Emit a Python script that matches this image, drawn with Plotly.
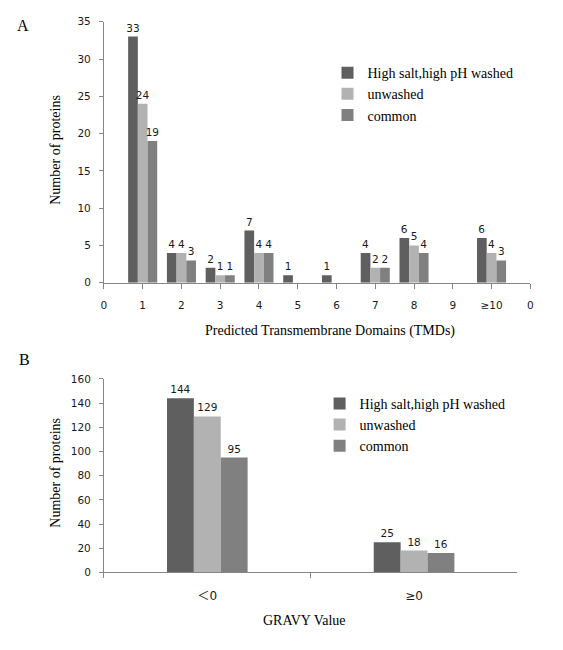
import plotly.graph_objects as go

# Panel A data
tmd_positions = [1, 2, 3, 4, 5, 6, 7, 8, 9, 10]
tmd_tickvals = [0, 1, 2, 3, 4, 5, 6, 7, 8, 9, 10, 11]
tmd_ticktext = ["0", "1", "2", "3", "4", "5", "6", "7", "8", "9", "≥10", "0"]
a_washed = [33, 4, 2, 7, 1, 1, 4, 6, 0, 6]
a_unwashed = [24, 4, 1, 4, 0, 0, 2, 5, 0, 4]
a_common = [19, 3, 1, 4, 0, 0, 2, 4, 0, 3]

# Panel B data
gravy_cats = ["＜0", "≥0"]
b_washed = [144, 25]
b_unwashed = [129, 18]
b_common = [95, 16]

series_names = ["High salt,high pH washed", "unwashed", "common"]
colors = ["#5f5f5f", "#b2b2b2", "#808080"]

W, H = 563, 650
def px(x):
    return x / W
def py(y):
    return 1 - y / H

label_font = dict(family="DejaVu Sans", size=10.5, color="#1a1a1a")
tick_font = dict(family="DejaVu Sans", size=10.5, color="#1a1a1a")
serif = "Liberation Serif"
axis_color = "#868686"

def txt(vals):
    return [str(v) if v else "" for v in vals]

fig = go.Figure()
for name, vals, c in zip(series_names, [a_washed, a_unwashed, a_common], colors):
    fig.add_trace(go.Bar(
        x=tmd_positions, y=vals, name=name, marker=dict(color=c, line=dict(width=0)),
        text=txt(vals), textposition="outside", textfont=label_font, cliponaxis=False,
        constraintext="none", xaxis="x", yaxis="y", legend="legend",
    ))
b_width = 0.13
for i, (name, vals, c) in enumerate(zip(series_names, [b_washed, b_unwashed, b_common], colors)):
    fig.add_trace(go.Bar(
        x=gravy_cats, y=vals, name=name, marker=dict(color=c, line=dict(width=0)),
        text=txt(vals), textposition="outside", textfont=label_font, cliponaxis=False,
        constraintext="none", width=b_width, offset=(i - 1.5) * b_width,
        xaxis="x2", yaxis="y2", legend="legend2",
    ))

fig.update_layout(
    width=W, height=H, margin=dict(l=0, r=0, t=0, b=0),
    paper_bgcolor="white", plot_bgcolor="white",
    barmode="group", bargap=0.25, bargroupgap=0,
    showlegend=True,
    xaxis=dict(domain=[px(102), px(533)], range=[0, 11], tickmode="array",
               tickvals=tmd_tickvals, ticktext=tmd_ticktext, showgrid=False, zeroline=False,
               showline=True, linecolor=axis_color, linewidth=1, ticks="outside",
               ticklen=5, tickcolor=axis_color, tickfont=tick_font, ticklabelstandoff=8,
               anchor="y"),
    yaxis=dict(domain=[py(282), py(16)], range=[0, 35], dtick=5, showgrid=False,
               zeroline=False, showline=True, linecolor=axis_color, linewidth=1,
               ticks="outside", ticklen=4, tickcolor=axis_color, tickfont=tick_font,
               ticklabelstandoff=6, anchor="x"),
    xaxis2=dict(domain=[px(102), px(520)], type="category", tickson="boundaries",
                showgrid=False, zeroline=False, showline=True, linecolor=axis_color,
                linewidth=1, ticks="outside", ticklen=5, tickcolor=axis_color,
                tickfont=dict(family="DejaVu Sans, Noto Sans CJK SC", size=12, color="#1a1a1a"),
                ticklabelstandoff=12, anchor="y2"),
    yaxis2=dict(domain=[py(577), py(380)], range=[0, 160], dtick=20, showgrid=False,
                zeroline=False, showline=True, linecolor=axis_color, linewidth=1,
                ticks="outside", ticklen=4, tickcolor=axis_color, tickfont=tick_font,
                ticklabelstandoff=6, anchor="x2"),
    legend=dict(x=px(328), y=py(52), xanchor="left", yanchor="top",
                font=dict(family=serif, size=14, color="black"), bgcolor="rgba(0,0,0,0)"),
    legend2=dict(x=px(320), y=py(389), xanchor="left", yanchor="top",
                 font=dict(family=serif, size=14, color="black"), bgcolor="rgba(0,0,0,0)"),
)

annots = [
    dict(text="A", x=px(20), y=py(20), font=dict(family=serif, size=16, color="black")),
    dict(text="B", x=px(22), y=py(360), font=dict(family=serif, size=16, color="black")),
    dict(text="Number of proteins", x=px(53), y=py(146), textangle=-90,
         font=dict(family=serif, size=14, color="black")),
    dict(text="Predicted Transmembrane Domains (TMDs)", x=px(331), y=py(331),
         font=dict(family=serif, size=14, color="black")),
    dict(text="Number of proteins", x=px(53), y=py(475), textangle=-90,
         font=dict(family=serif, size=14, color="black")),
    dict(text="GRAVY Value", x=px(305), y=py(626),
         font=dict(family=serif, size=14, color="black")),
]
for a in annots:
    fig.add_annotation(xref="paper", yref="paper", showarrow=False,
                       xanchor="center", yanchor="middle", **a)

fig.write_html("out.html", config={"displayModeBar": False},
               post_script="document.body.style.margin='0';document.body.style.overflow='hidden';")
